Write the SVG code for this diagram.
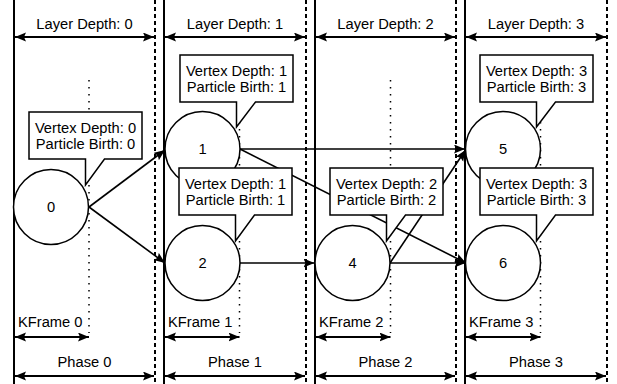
<svg xmlns="http://www.w3.org/2000/svg" width="617" height="384" viewBox="0 0 617 384">
<defs>
<marker id="ah" markerUnits="userSpaceOnUse" markerWidth="12" markerHeight="10" refX="11" refY="4.5" orient="auto-start-reverse">
<path d="M0,0 L11,4.5 L0,9 L2,4.5 Z" fill="#000"/>
</marker>
<style>
text{font-family:"Liberation Sans",Arial,sans-serif;font-size:14.7px;fill:#000}
.mid{text-anchor:middle}
.solid{stroke:#000;stroke-width:2;fill:none}
.dash{stroke:#000;stroke-width:2;stroke-dasharray:4 3;fill:none}
.dot{stroke:#000;stroke-width:1.5;stroke-dasharray:1.5 5.5;fill:none}
.dim{stroke:#000;stroke-width:2;fill:none;marker-start:url(#ah);marker-end:url(#ah)}
.edge{stroke:#000;stroke-width:1.6;fill:none;marker-end:url(#ah)}
.node circle{fill:#fff;stroke:#000;stroke-width:1.5}
.call path{fill:#fff;stroke:#000;stroke-width:1.5}
</style>
</defs>
<rect width="617" height="384" fill="#fff"/>
<g id="columns">
<line class="solid" x1="14" y1="0" x2="14" y2="384"/>
<line class="solid" x1="164" y1="0" x2="164" y2="384"/>
<line class="solid" x1="315" y1="0" x2="315" y2="384"/>
<line class="solid" x1="465" y1="0" x2="465" y2="384"/>
<line class="dash" x1="155" y1="0" x2="155" y2="384"/>
<line class="dash" x1="306" y1="0" x2="306" y2="384"/>
<line class="dash" x1="456" y1="0" x2="456" y2="384"/>
<line class="dash" x1="607" y1="0" x2="607" y2="384"/>
<line class="dot" x1="89" y1="80" x2="89" y2="333"/>
<line class="dot" x1="239.5" y1="80" x2="239.5" y2="333"/>
<line class="dot" x1="390.5" y1="80" x2="390.5" y2="333"/>
<line class="dot" x1="540.5" y1="80" x2="540.5" y2="333"/>
</g>
<g id="dimensions">
<line class="dim" x1="15" y1="37" x2="154" y2="37"/>
<line class="dim" x1="165" y1="37" x2="305" y2="37"/>
<line class="dim" x1="316" y1="37" x2="455" y2="37"/>
<line class="dim" x1="466" y1="37" x2="606" y2="37"/>
<text class="mid" x="84.5" y="29">Layer Depth: 0</text>
<text class="mid" x="235" y="29">Layer Depth: 1</text>
<text class="mid" x="385.5" y="29">Layer Depth: 2</text>
<text class="mid" x="536" y="29">Layer Depth: 3</text>
<line class="dim" x1="15" y1="337" x2="89" y2="337"/>
<line class="dim" x1="165" y1="337" x2="239.5" y2="337"/>
<line class="dim" x1="316" y1="337" x2="390.5" y2="337"/>
<line class="dim" x1="466" y1="337" x2="540.5" y2="337"/>
<text x="18" y="327">KFrame 0</text>
<text x="168" y="327">KFrame 1</text>
<text x="319" y="327">KFrame 2</text>
<text x="469" y="327">KFrame 3</text>
<line class="dim" x1="15" y1="376" x2="154" y2="376"/>
<line class="dim" x1="165" y1="376" x2="305" y2="376"/>
<line class="dim" x1="316" y1="376" x2="455" y2="376"/>
<line class="dim" x1="466" y1="376" x2="606" y2="376"/>
<text class="mid" x="84.5" y="367">Phase 0</text>
<text class="mid" x="235" y="367">Phase 1</text>
<text class="mid" x="385.5" y="367">Phase 2</text>
<text class="mid" x="536" y="367">Phase 3</text>
</g>
<g id="connectors">
<line class="edge" x1="89" y1="207" x2="165" y2="150"/>
<line class="edge" x1="89" y1="207" x2="165" y2="263"/>
<line class="edge" x1="240" y1="149" x2="465" y2="149"/>
<line class="edge" x1="240" y1="149" x2="466" y2="263"/>
<line class="edge" x1="240" y1="263" x2="314.5" y2="263"/>
<line class="edge" x1="390" y1="263" x2="465.5" y2="150"/>
<line class="edge" x1="390" y1="263" x2="465.5" y2="263"/>
</g>
<g id="node0" class="node"><circle cx="51" cy="207" r="37.5"/><text class="mid" x="51" y="212">0</text></g>
<g id="node1" class="node"><circle cx="202.5" cy="149" r="37.5"/><text class="mid" x="202.5" y="154">1</text></g>
<g id="node2" class="node"><circle cx="202.5" cy="263" r="37.5"/><text class="mid" x="202.5" y="268">2</text></g>
<g id="node4" class="node"><circle cx="352.5" cy="263" r="37.5"/><text class="mid" x="352.5" y="268">4</text></g>
<g id="node5" class="node"><circle cx="503" cy="149" r="37.5"/><text class="mid" x="503" y="154">5</text></g>
<g id="node6" class="node"><circle cx="503" cy="263" r="37.5"/><text class="mid" x="503" y="268">6</text></g>
<g id="callout0" class="call"><path d="M29,112 H142 V159 H104.5 L85.5,185 V159 H29 Z"/><text class="mid" x="85.5" y="133">Vertex Depth: 0</text><text class="mid" x="85.5" y="149">Particle Birth: 0</text></g>
<g id="callout1" class="call"><path d="M180,55 H293 V102 H255.5 L236.5,127 V102 H180 Z"/><text class="mid" x="236.5" y="76">Vertex Depth: 1</text><text class="mid" x="236.5" y="92">Particle Birth: 1</text></g>
<g id="callout2" class="call"><path d="M179,168 H292 V215 H254.5 L235.5,241 V215 H179 Z"/><text class="mid" x="235.5" y="189">Vertex Depth: 1</text><text class="mid" x="235.5" y="205">Particle Birth: 1</text></g>
<g id="callout4" class="call"><path d="M330,168 H443 V215 H405.5 L386.5,241 V215 H330 Z"/><text class="mid" x="386.5" y="189">Vertex Depth: 2</text><text class="mid" x="386.5" y="205">Particle Birth: 2</text></g>
<g id="callout5" class="call"><path d="M480,55 H593 V102 H555.5 L536.5,127 V102 H480 Z"/><text class="mid" x="536.5" y="76">Vertex Depth: 3</text><text class="mid" x="536.5" y="92">Particle Birth: 3</text></g>
<g id="callout6" class="call"><path d="M480,168 H593 V215 H555.5 L536.5,241 V215 H480 Z"/><text class="mid" x="536.5" y="189">Vertex Depth: 3</text><text class="mid" x="536.5" y="205">Particle Birth: 3</text></g>
</svg>
